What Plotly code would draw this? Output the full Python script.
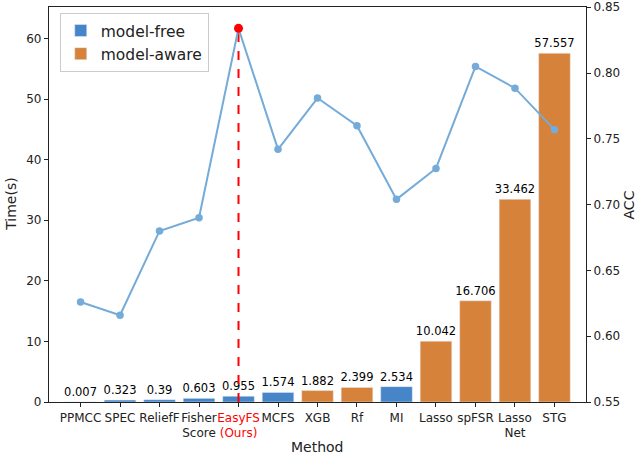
import plotly.graph_objects as go

methods = ["PPMCC", "SPEC", "ReliefF", "Fisher<br>Score", "EasyFS<br>(Ours)", "MCFS",
           "XGB", "Rf", "MI", "Lasso", "spFSR", "Lasso<br>Net", "STG"]
time_s = [0.007, 0.323, 0.39, 0.603, 0.955, 1.574, 1.882, 2.399, 2.534,
          10.042, 16.706, 33.462, 57.557]
acc = [0.626, 0.616, 0.680, 0.690, 0.834, 0.742, 0.781, 0.760, 0.704,
       0.7275, 0.805, 0.7885, 0.757]
model_free = ["PPMCC", "SPEC", "ReliefF", "Fisher<br>Score", "EasyFS<br>(Ours)", "MCFS", "MI"]

ours = "EasyFS<br>(Ours)"
tick_text = []
for m in methods:
    if m == ours:
        tick_text.append("<span style='color:red'>EasyFS</span><br><span style='color:red'>(Ours)</span>")
    else:
        tick_text.append(m)

free_x = [m for m in methods if m in model_free]
free_y = [t for m, t in zip(methods, time_s) if m in model_free]
aware_x = [m for m in methods if m not in model_free]
aware_y = [t for m, t in zip(methods, time_s) if m not in model_free]

label_font = dict(size=11.5, color="black")
fig = go.Figure()
fig.add_trace(go.Bar(x=free_x, y=free_y, name="model-free", marker_color="#4785c9",
                     text=[str(v) for v in free_y], textposition="outside",
                     textfont=label_font, constraintext="none", cliponaxis=False))
fig.add_trace(go.Bar(x=aware_x, y=aware_y, name="model-aware", marker_color="#d6823a",
                     text=[str(v) for v in aware_y], textposition="outside",
                     textfont=label_font, constraintext="none", cliponaxis=False))

# dashed marker line for our method
best = acc[methods.index(ours)]
fig.add_trace(go.Scatter(x=[ours, ours], y=[0.55, best], mode="lines", yaxis="y2",
                         line=dict(color="red", width=2, dash="dash"), showlegend=False))
fig.add_trace(go.Scatter(x=methods, y=acc, mode="lines+markers", yaxis="y2",
                         line=dict(color="#74abd9", width=2),
                         marker=dict(size=7.5, color="#74abd9"), showlegend=False))
fig.add_trace(go.Scatter(x=[ours], y=[best], mode="markers", yaxis="y2",
                         marker=dict(size=9, color="red"), showlegend=False))

axis_common = dict(showline=True, linecolor="#222", linewidth=1.2, ticks="outside",
                   tickcolor="#222", ticklen=4, showgrid=False, zeroline=False,
                   automargin=False, ticklabeloverflow="allow",
                   tickfont=dict(size=12, color="#222"))

fig.update_layout(
    width=640, height=457,
    margin=dict(l=49, r=54, t=7, b=55),
    plot_bgcolor="white", paper_bgcolor="white",
    font=dict(family="DejaVu Sans", color="#222"),
    barmode="overlay", bargap=0.2,
    xaxis=dict(axis_common, tickvals=methods, ticktext=tick_text, mirror=True,
               tickangle=0, categoryorder="array", categoryarray=methods),
    yaxis=dict(axis_common, range=[0, 65.2], dtick=10),
    yaxis2=dict(axis_common, overlaying="y", side="right", range=[0.55, 0.8502],
                dtick=0.05, tickformat=".2f"),
    legend=dict(x=0.02, y=0.985, xanchor="left", yanchor="top",
                bordercolor="#ccc", borderwidth=1, bgcolor="white",
                font=dict(size=15.5)),
    annotations=[
        dict(text="Method", xref="paper", yref="paper", x=0.5, y=-0.115,
             xanchor="center", yanchor="middle", showarrow=False, font=dict(size=14)),
        dict(text="Time(s)", xref="paper", yref="paper", x=-0.072, y=0.5, textangle=-90,
             xanchor="center", yanchor="middle", showarrow=False, font=dict(size=14)),
        dict(text="ACC", xref="paper", yref="paper", x=1.08, y=0.5, textangle=-90,
             xanchor="center", yanchor="middle", showarrow=False, font=dict(size=14)),
    ],
)

fig.write_html("out.html", config={"displayModeBar": False},
               post_script="document.body.style.margin='0';")
